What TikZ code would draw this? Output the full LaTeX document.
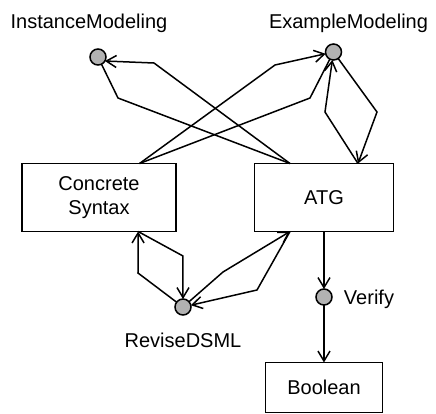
\documentclass[tikz,border=0pt]{standalone}
\usepackage{fontspec}
\setmainfont{Liberation Sans}
\usetikzlibrary{arrows.meta}

\begin{document}
\begin{tikzpicture}[x=0.5pt,y=-0.5pt,line width=0.75pt,inner sep=0pt,outer sep=0pt,
>={Straight Barb[length=5pt,width=6pt]},
modelbox/.style={draw,rectangle,minimum height=34pt,align=center},
opdot/.style={draw,circle,fill=black!30,minimum size=8pt}]

\useasboundingbox (0,0) rectangle (436,414);

\draw (99,197.5) node[modelbox,minimum width=77pt] (cs) {Concrete\\Syntax};
\draw (324,197.5) node[modelbox,minimum width=69.5pt] (atg) {ATG};
\draw (324,387.5) node[modelbox,minimum width=58.5pt,minimum height=25pt] (bool) {Boolean};

\draw (98,57) node[opdot] (im) {};
\draw (333.5,52) node[opdot] (em) {};
\draw (183,307) node[opdot] (rd) {};
\draw (324,297) node[opdot] (ver) {};

\draw (89,28.5) node[anchor=base] (imlabel) {InstanceModeling};
\draw (348.5,28.5) node[anchor=base] (emlabel) {ExampleModeling};
\draw (183,347) node[anchor=base] (rdlabel) {ReviseDSML};
\draw (344,304.5) node[anchor=base west] (verlabel) {Verify};

% instance modeling
\draw[->] (atg.135) -- (154,63) -- (im.-30);
\draw (im) -- (118,98) -- (atg.135);
% example modeling
\draw[->] (cs.40) -- (275,65) -- (em);
\draw (em) -- (310,98) -- (cs.40);
\draw[->] (atg.45) -- (325,112) -- (em);
\draw[->] (em) -- (377,112) -- (atg.45);
% revise dsml
\draw[->] (cs.-41) -- (183,256) -- (rd);
\draw[->] (rd) -- (138,273) -- (cs.-41);
\draw[->] (atg.225) -- (257,290) -- (rd);
\draw[->] (rd) -- (223,272) -- (atg.225);
% verify
\draw[->] (atg) -- (ver);
\draw[->] (ver) -- (bool);

\end{tikzpicture}
\end{document}
